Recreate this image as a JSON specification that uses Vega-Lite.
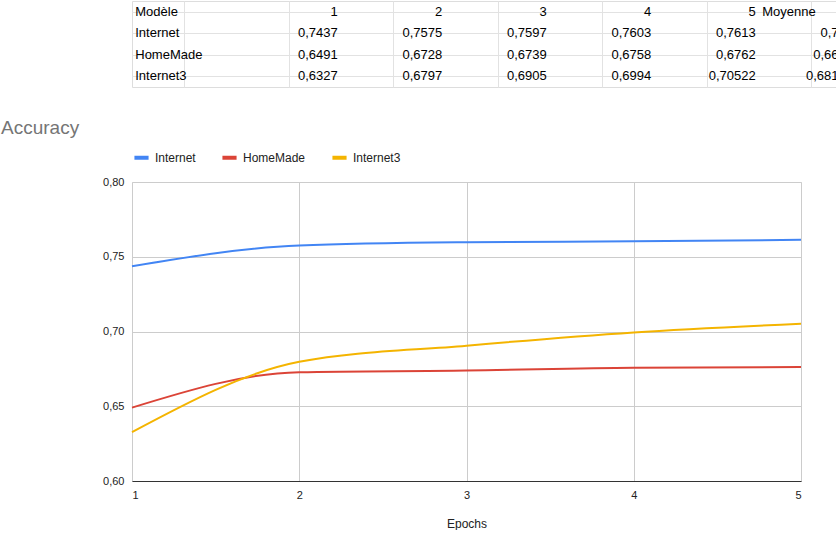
{
  "$schema": "https://vega.github.io/schema/vega-lite/v6.json",
  "padding": {"left": 0, "top": 0, "right": 0, "bottom": 0},
  "background": "white",
  "spacing": 30,
  "resolve": {"legend": {"color": "independent"}},
  "config": {
    "font": "Roboto",
    "locale": {"number": {"decimal": ",", "thousands": " ", "grouping": [3], "currency": ["", " €"]}}
  },
  "vconcat": [
    {
      "width": 836,
      "height": 86,
      "data": {"values": [
        {"r": 1, "c": 1, "t": "Modèle", "k": "l"}, {"r": 1, "c": 2, "t": "1", "k": "r"}, {"r": 1, "c": 3, "t": "2", "k": "r"}, {"r": 1, "c": 4, "t": "3", "k": "r"}, {"r": 1, "c": 5, "t": "4", "k": "r"}, {"r": 1, "c": 6, "t": "5", "k": "r"}, {"r": 1, "c": 7, "t": "Moyenne", "k": "l"}, {"r": 1, "c": 8, "t": "Exec time", "k": "l"},
        {"r": 2, "c": 1, "t": "Internet", "k": "l"}, {"r": 2, "c": 2, "t": "0,7437", "k": "r"}, {"r": 2, "c": 3, "t": "0,7575", "k": "r"}, {"r": 2, "c": 4, "t": "0,7597", "k": "r"}, {"r": 2, "c": 5, "t": "0,7603", "k": "r"}, {"r": 2, "c": 6, "t": "0,7613", "k": "r"}, {"r": 2, "c": 7, "t": "0,7565", "k": "r"}, {"r": 2, "c": 8, "t": "69m21", "k": "r"},
        {"r": 3, "c": 1, "t": "HomeMade", "k": "l"}, {"r": 3, "c": 2, "t": "0,6491", "k": "r"}, {"r": 3, "c": 3, "t": "0,6728", "k": "r"}, {"r": 3, "c": 4, "t": "0,6739", "k": "r"}, {"r": 3, "c": 5, "t": "0,6758", "k": "r"}, {"r": 3, "c": 6, "t": "0,6762", "k": "r"}, {"r": 3, "c": 7, "t": "0,66956", "k": "r"}, {"r": 3, "c": 8, "t": "10m13", "k": "r"},
        {"r": 4, "c": 1, "t": "Internet3", "k": "l"}, {"r": 4, "c": 2, "t": "0,6327", "k": "r"}, {"r": 4, "c": 3, "t": "0,6797", "k": "r"}, {"r": 4, "c": 4, "t": "0,6905", "k": "r"}, {"r": 4, "c": 5, "t": "0,6994", "k": "r"}, {"r": 4, "c": 6, "t": "0,70522", "k": "r"}, {"r": 4, "c": 7, "t": "0,681504", "k": "r"}, {"r": 4, "c": 8, "t": "6m20", "k": "r"}
      ]},
      "encoding": {
        "x": {"field": "c", "type": "ordinal", "scale": {"paddingInner": 0, "paddingOuter": 0},
          "axis": {"labels": false, "ticks": false, "domain": false, "title": null, "grid": true, "bandPosition": 1, "gridColor": "#e2e2e2"}},
        "y": {"field": "r", "type": "ordinal", "scale": {"paddingInner": 0, "paddingOuter": 0},
          "axis": {"labels": false, "ticks": false, "domain": false, "title": null, "grid": true, "bandPosition": 1, "gridColor": "#e2e2e2"}},
        "text": {"field": "t"}
      },
      "layer": [
        {"transform": [{"filter": "datum.k == 'l'"}], "mark": {"type": "text", "align": "left", "xOffset": -49, "fontSize": 13, "font": "Arial", "color": "#000"}},
        {"transform": [{"filter": "datum.k == 'r'"}], "mark": {"type": "text", "align": "right", "xOffset": 49, "fontSize": 13, "font": "Arial", "color": "#000"}}
      ]
    },
    {
      "width": 669,
      "height": 299,
      "title": {"text": "Accuracy", "anchor": "start", "color": "#757575", "fontSize": 19, "fontWeight": "normal", "font": "Arial", "offset": 10, "dx": -30},
      "data": {"values": [
        {"epoch": 1, "model": "Internet", "acc": 0.7437}, {"epoch": 2, "model": "Internet", "acc": 0.7575}, {"epoch": 3, "model": "Internet", "acc": 0.7597}, {"epoch": 4, "model": "Internet", "acc": 0.7603}, {"epoch": 5, "model": "Internet", "acc": 0.7613},
        {"epoch": 1, "model": "HomeMade", "acc": 0.6491}, {"epoch": 2, "model": "HomeMade", "acc": 0.6728}, {"epoch": 3, "model": "HomeMade", "acc": 0.6739}, {"epoch": 4, "model": "HomeMade", "acc": 0.6758}, {"epoch": 5, "model": "HomeMade", "acc": 0.6762},
        {"epoch": 1, "model": "Internet3", "acc": 0.6327}, {"epoch": 2, "model": "Internet3", "acc": 0.6797}, {"epoch": 3, "model": "Internet3", "acc": 0.6905}, {"epoch": 4, "model": "Internet3", "acc": 0.6994}, {"epoch": 5, "model": "Internet3", "acc": 0.70522}
      ]},
      "mark": {"type": "line", "interpolate": "monotone", "strokeWidth": 2},
      "encoding": {
        "x": {"field": "epoch", "type": "quantitative", "scale": {"domain": [1, 5], "nice": false},
          "axis": {"title": "Epochs", "tickCount": 5, "format": "d", "grid": true, "gridColor": "#ccc", "domainColor": "#333", "ticks": false, "labelPadding": 8, "titlePadding": 18, "titleFontWeight": "normal", "titleFont": "Arial", "labelFont": "Arial", "labelFontSize": 11, "titleFontSize": 12, "labelColor": "#222", "titleColor": "#222"}},
        "y": {"field": "acc", "type": "quantitative", "scale": {"domain": [0.6, 0.8], "nice": false, "zero": false},
          "axis": {"title": null, "minExtent": 101, "values": [0.6, 0.65, 0.7, 0.75, 0.8], "format": ".2f", "gridColor": "#ccc", "domain": false, "ticks": false, "labelPadding": 8, "labelFont": "Arial", "labelFontSize": 11, "labelColor": "#222"}},
        "color": {"field": "model", "type": "nominal", "sort": ["Internet", "HomeMade", "Internet3"],
          "scale": {"domain": ["Internet", "HomeMade", "Internet3"], "range": ["#4285f4", "#db4437", "#f4b400"]},
          "legend": {"orient": "top", "direction": "horizontal", "title": null, "symbolType": "stroke", "symbolStrokeWidth": 4, "symbolSize": 200, "labelFont": "Arial", "labelFontSize": 12, "labelColor": "#222", "columnPadding": 18, "offset": 16}}
      }
    }
  ]
}
